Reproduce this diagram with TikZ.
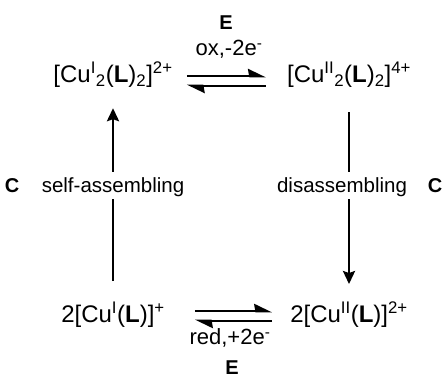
\documentclass[tikz,border=0pt]{standalone}
\usepackage{fontspec}
\setmainfont{Liberation Sans}
\usetikzlibrary{arrows.meta,positioning,calc}

\begin{document}
\begin{tikzpicture}[x=1pt, y=1pt,
cplx/.style={font=\fontsize{24}{28}\selectfont, anchor=base, inner sep=2pt},
lbl/.style={font=\fontsize{20.5}{24}\selectfont, anchor=base, text height=15pt,
text depth=0pt, inner xsep=2pt, inner ysep=6pt},
rxn/.style={font=\fontsize{22}{26}\selectfont, anchor=base, inner sep=2pt},
tag/.style={font=\fontsize{20}{24}\selectfont\bfseries, anchor=base, inner sep=1pt},
harp/.style={-{Stealth[left, length=15pt, width=14pt, inset=1pt]}, line width=2.6pt},
vline/.style={line width=2.6pt},
varrow/.style={-{Stealth[length=13pt, width=12pt, inset=2pt]}, line width=2.6pt}
]
\useasboundingbox (0,0) rectangle (446,379);

% complexes
\node[cplx] (cuI2) at (113,296)
{[Cu\textsuperscript{I}\textsubscript{2}(\textbf{L})\textsubscript{2}]\textsuperscript{2+}};
\node[cplx] (cuII2) at (349,296)
{[Cu\textsuperscript{II}\textsubscript{2}(\textbf{L})\textsubscript{2}]\textsuperscript{4+}};
\node[cplx] (cuI) at (113,56)
{2[Cu\textsuperscript{I}(\textbf{L})]\textsuperscript{+}};
\node[cplx] (cuII) at (349,56)
{2[Cu\textsuperscript{II}(\textbf{L})]\textsuperscript{2+}};

% redox labels
\node[tag] (etop) at (226,349) {E};
\node[rxn] (ox) at (229,323) {ox,-2e\textsuperscript{-}};
\node[rxn] (red) at (230,34) {red,+2e\textsuperscript{-}};
\node[tag] (ebot) at (232,4) {E};

% assembly labels
\node[lbl] (selfasm) at (113,186) {self-assembling};
\node[lbl] (disasm) at (342,186) {disassembling};
\node[tag] (cleft) at (12,186) {C};
\node[tag] (cright) at (435,186) {C};

% equilibria
\draw[harp] ([xshift=12pt,yshift=7pt]cuI2.base east) -- ([xshift=-19pt,yshift=7pt]cuII2.base west);
\draw[harp] ([xshift=-19pt,yshift=-3pt]cuII2.base west) -- ([xshift=12pt,yshift=-3pt]cuI2.base east);
\draw[harp] ([xshift=28pt,yshift=12pt]cuI.base east) -- ([xshift=-16pt,yshift=12pt]cuII.base west);
\draw[harp] ([xshift=-16pt,yshift=2pt]cuII.base west) -- ([xshift=28pt,yshift=2pt]cuI.base east);

% assembly / disassembly
\draw[vline, shorten <=19pt] (cuI.north) -- (cuI.north |- selfasm.south);
\draw[varrow, shorten >=18pt] (cuI2.south |- selfasm.north) -- (cuI2.south);
\draw[vline, shorten <=22pt] (cuII2.south) -- (cuII2.south |- disasm.north);
\draw[varrow, shorten >=16pt] (cuII.north |- disasm.south) -- (cuII.north);

\end{tikzpicture}
\end{document}
